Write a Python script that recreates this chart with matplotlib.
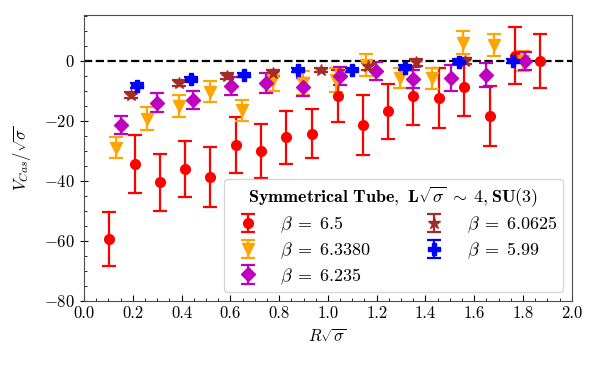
import matplotlib
matplotlib.use("Agg")
import matplotlib.pyplot as plt
from matplotlib.ticker import MultipleLocator, FormatStrFormatter

plt.rcParams['font.family'] = 'serif'
plt.rcParams['font.serif'] = ['cmr10']
plt.rcParams['mathtext.fontset'] = 'cm'
plt.rcParams['axes.formatter.use_mathtext'] = True
plt.rcParams['font.size'] = 12

# beta = 6.5
x_65 = [0.102, 0.209, 0.311, 0.414, 0.516, 0.623, 0.725, 0.828, 0.934, 1.041,
        1.145, 1.246, 1.350, 1.455, 1.559, 1.664, 1.766, 1.871]
y_65 = [-59.5, -34.4, -40.5, -36.1, -38.8, -28.0, -30.0, -25.5, -24.3, -11.7,
        -21.3, -16.8, -11.6, -12.4, -8.6, -18.5, 1.8, 0.0]
e_65 = [9.0, 9.6, 9.4, 9.3, 10.0, 9.4, 9.0, 8.7, 8.2, 8.8,
        10.0, 9.2, 9.6, 10.0, 9.6, 10.0, 9.6, 8.9]

# beta = 6.3380
x_633 = [0.130, 0.257, 0.389, 0.516, 0.649, 0.776, 0.899, 1.035, 1.158, 1.295,
         1.425, 1.555, 1.682, 1.800]
y_633 = [-29.0, -19.3, -15.0, -10.2, -16.5, -6.5, -7.3, -6.5, -1.3, -5.7,
         -5.7, 6.0, 5.3, 0.0]
e_633 = [3.5, 3.8, 3.6, 3.5, 3.5, 3.5, 4.0, 4.0, 3.6, 3.4,
         3.5, 3.8, 3.5, 3.4]

# beta = 6.235
x_6235 = [0.150, 0.300, 0.448, 0.601, 0.748, 0.899, 1.049, 1.199, 1.350, 1.503,
          1.650, 1.807]
y_6235 = [-21.2, -13.9, -12.9, -8.5, -7.4, -8.8, -4.9, -3.3, -6.0, -5.7,
          -4.8, -0.1]
e_6235 = [3.0, 3.2, 3.0, 3.0, 3.3, 3.0, 3.0, 3.0, 3.0, 4.3,
          4.0, 3.0]

# beta = 6.0625
x_60625 = [0.194, 0.389, 0.585, 0.776, 0.970, 1.165, 1.362, 1.561]
y_60625 = [-11.3, -7.2, -5.0, -4.1, -3.0, -1.8, -0.5, 0.0]
e_60625 = [1.0, 1.0, 1.0, 1.0, 0.8, 1.2, 1.2, 1.0]

# beta = 5.99
x_599 = [0.218, 0.437, 0.658, 0.878, 1.100, 1.316, 1.537, 1.759]
y_599 = [-8.2, -6.1, -4.7, -3.0, -3.0, -2.2, -0.2, 0.0]
e_599 = [0.8, 0.8, 0.8, 0.8, 0.8, 0.8, 0.8, 0.8]

labels = [r'$\beta\;=\;6.5$', r'$\beta\;=\;6.3380$', r'$\beta\;=\;6.235$',
          r'$\beta\;=\;6.0625$', r'$\beta\;=\;5.99$']
legend_title = r'$\mathbf{Symmetrical\ Tube,\ L\sqrt{\sigma}\;\sim\;4, SU(3)}$'

fig = plt.figure(figsize=(6.0, 3.7), dpi=100)
ax = fig.add_axes([0.14, 0.1865, 0.813, 0.773])

ax.axhline(0, color='black', linestyle='--', linewidth=1.6, zorder=1)

common = dict(linestyle='none', capsize=5, elinewidth=1.6, capthick=1.6)
ax.errorbar(x_65, y_65, yerr=e_65, fmt='o', color='red', ms=7, label=labels[0], **common)
ax.errorbar(x_633, y_633, yerr=e_633, fmt='v', color='orange', ms=8, label=labels[1], **common)
ax.errorbar(x_6235, y_6235, yerr=e_6235, fmt='D', color='m', ms=7, label=labels[2], **common)
ax.errorbar(x_60625, y_60625, yerr=e_60625, fmt='*', color='brown', ms=9, label=labels[3], **common)
ax.errorbar(x_599, y_599, yerr=e_599, fmt='P', color='blue', ms=8, label=labels[4], **common)

ax.set_xlim(0.0, 2.0)
ax.set_ylim(-80, 15.3)
ax.xaxis.set_major_locator(MultipleLocator(0.2))
ax.xaxis.set_minor_locator(MultipleLocator(0.05))
ax.yaxis.set_major_locator(MultipleLocator(20))
ax.yaxis.set_minor_locator(MultipleLocator(5))
ax.tick_params(which='both', direction='in')
ax.tick_params(which='major', length=4)
ax.tick_params(which='minor', length=2)
ax.tick_params(axis='y', which='major', direction='inout', length=6)
ax.xaxis.set_major_formatter(FormatStrFormatter('%.1f'))
for s in ax.spines.values():
    s.set_color('0.3')

ax.set_xlabel(r'$R\sqrt{\sigma}$')
ax.set_ylabel(r'$V_{Cas}/\sqrt{\sigma}$', labelpad=8)

leg = ax.legend(loc='lower right', ncol=2, title=legend_title,
                fontsize=13, title_fontsize=13, labelspacing=0.3,
                borderpad=0.3, columnspacing=2.5)

fig.savefig('out.png', dpi=100)
